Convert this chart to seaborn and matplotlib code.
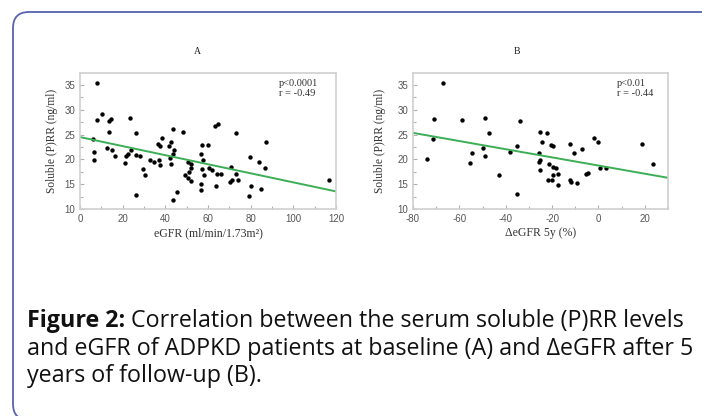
import matplotlib
matplotlib.use("Agg")
import matplotlib.pyplot as plt
import seaborn as sns
from matplotlib.patches import FancyBboxPatch
from matplotlib.ticker import MultipleLocator

# panel A: baseline eGFR vs soluble (P)RR
egfr = [7.8, 6.1, 6.4, 6.4, 8.2, 10.4, 13.8, 14.6, 13.8, 12.5, 15.2, 16.6, 21.2, 21.6,
        22.7, 23.8, 23.5, 26.4, 26.4, 28.0, 29.3, 30.4, 26.4, 32.6, 34.8, 36.9, 37.3, 36.5,
        37.3, 38.3, 41.6, 42.7, 43.6, 42.0, 42.7, 43.5, 44.0, 45.5, 43.6, 48.5, 49.3, 50.8,
        51.8, 51.3, 51.9, 51.9, 50.8, 56.5, 56.8, 56.8, 57.1, 57.4, 57.7, 58.0, 59.9, 60.7,
        62.1, 63.2, 64.6, 63.9, 64.4, 66.0, 70.6, 70.3, 71.2, 73.1, 73.1, 74.2, 79.7, 80.3,
        79.0, 84.0, 84.7, 87.4, 86.9, 116.5]
sprr_a = [35.3, 24.1, 21.4, 19.9, 28.0, 29.1, 27.8, 28.2, 25.6, 22.2, 21.9, 20.6, 19.2, 20.6,
          21.1, 21.9, 28.3, 25.3, 20.9, 20.7, 18.0, 16.8, 12.9, 19.9, 19.4, 19.9, 18.9, 23.1,
          22.7, 24.3, 22.6, 23.5, 26.2, 20.2, 19.0, 21.1, 21.9, 13.5, 11.9, 25.6, 16.8, 19.4,
          19.0, 17.4, 18.3, 15.7, 16.2, 13.8, 15.1, 21.1, 18.0, 22.9, 19.8, 16.8, 22.9, 18.3,
          17.8, 26.7, 27.1, 14.7, 17.1, 17.1, 18.4, 15.5, 15.8, 25.3, 17.1, 15.8, 20.5, 14.7,
          12.7, 19.5, 14.1, 23.4, 18.2, 15.8]

# panel B: eGFR change over 5 years vs soluble (P)RR
dgfr = [-67.0, -71.1, -71.3, -73.9, -58.7, -54.4, -55.3, -49.9, -48.9, -48.9, -47.4, -43.0,
        -38.0, -35.2, -33.8, -35.2, -25.4, -24.4, -25.6, -25.5, -25.1, -25.4, -22.2, -21.2,
        -20.5, -19.8, -19.5, -18.3, -19.5, -17.5, -21.9, -20.1, -17.6, -12.3, -12.3, -11.9,
        -10.5, -9.3, -6.9, -5.3, -4.7, -2.0, 0.0, 0.7, 3.2, 18.6, 23.5]
sprr_b = [35.3, 28.2, 24.1, 20.0, 28.0, 21.3, 19.3, 22.2, 20.7, 28.3, 25.3, 16.9, 21.5, 22.7,
          27.8, 13.0, 25.6, 23.5, 21.3, 19.4, 19.9, 17.8, 25.3, 19.1, 22.9, 22.6, 18.4, 18.2,
          16.9, 17.1, 15.8, 15.8, 14.8, 23.1, 15.8, 15.5, 21.3, 15.2, 22.0, 17.0, 17.2, 24.4,
          23.4, 18.3, 18.3, 23.1, 19.1]

stats_a = ["p<0.0001", "r = -0.49"]
stats_b = ["p<0.01", "r = -0.44"]

caption_bold = "Figure 2:"
caption_lines = [" Correlation between the serum soluble (P)RR levels",
                 "and eGFR of ADPKD patients at baseline (A) and \u0394eGFR after 5",
                 "years of follow-up (B)."]

sns.set_theme(style="white")
plt.rcParams["font.family"] = ["Liberation Sans", "DejaVu Sans"]
plt.rcParams["axes.unicode_minus"] = False

W, H = 702, 416
SERIF = "Liberation Serif"
CAP_FONT = ["Open Sans", "DejaVu Sans"]
GREEN = "#3cae55"

fig = plt.figure(figsize=(W / 100, H / 100), dpi=100)


def px_axes(l, t, r, b):
    return fig.add_axes([l / W, 1 - b / H, (r - l) / W, (b - t) / H])


def ftext(x, y, s, **kw):
    return fig.text(x / W, 1 - y / H, s, **kw)


def panel(ax, x, y, xlim, xlabel, ylab_x):
    ax.set_xlim(*xlim)
    ax.set_ylim(10, 37.4)
    sns.regplot(x=x, y=y, ax=ax, ci=None, truncate=False,
                scatter_kws=dict(s=10, color="black", linewidths=0, alpha=1),
                line_kws=dict(color=GREEN, lw=1.4))
    ax.set_xlim(*xlim)
    ax.xaxis.set_major_locator(MultipleLocator(20))
    ax.xaxis.set_minor_locator(MultipleLocator(10))
    ax.yaxis.set_major_locator(MultipleLocator(5))
    ax.yaxis.set_minor_locator(MultipleLocator(2.5))
    ax.tick_params(which="both", direction="in", bottom=True, left=True,
                   color="#b0b0b0", width=0.8)
    ax.tick_params(which="major", length=3, labelsize=7, labelcolor="#555555", pad=3.5)
    ax.tick_params(which="minor", length=2)
    for sp in ax.spines.values():
        sp.set_color("#cfcfcf")
        sp.set_linewidth(1.2)
    ax.set_xlabel(xlabel, family=SERIF, fontsize=8.5, color="#333333", va="center")
    ax.xaxis.set_label_coords(0.5, -0.176)
    ax.set_ylabel("Soluble (P)RR (ng/ml)", family=SERIF, fontsize=8.3, color="#333333",
                  va="center")
    ax.yaxis.set_label_coords(ylab_x, 0.5)


ax_a = px_axes(80, 73, 336, 209)
ax_b = px_axes(413, 73, 668, 209)
panel(ax_a, egfr, sprr_a, (0, 120), "eGFR (ml/min/1.73m\u00b2)", -0.109)
panel(ax_b, dgfr, sprr_b, (-80, 30), "\u0394eGFR 5y (%)", -0.128)

ftext(197, 52, "A", family=SERIF, fontsize=7, ha="center", va="center", color="#222222")
ftext(517, 51, "B", family=SERIF, fontsize=7, ha="center", va="center", color="#222222")

for (x0, lines) in [(279, stats_a), (617, stats_b)]:
    for i, s in enumerate(lines):
        ftext(x0, 84 + 9 * i, s, family=SERIF, fontsize=7.5, ha="left", va="center",
              color="#333333")

# rounded frame (in inches); right and bottom sides run off the canvas
frame = FancyBboxPatch((0.13, -0.04), 7.27, 4.08,
                       boxstyle="round,pad=0,rounding_size=0.16",
                       transform=fig.dpi_scale_trans, fill=False,
                       edgecolor="#5563b0", linewidth=1.3)
fig.add_artist(frame)

# caption: size fitted so the second line spans the same width as the reference
renderer = fig.canvas.get_renderer()
probe = ftext(27, 355, caption_lines[1], family=CAP_FONT, fontsize=10)
cap_size = 10 * 668 / probe.get_window_extent(renderer).width
probe.remove()

bold = ftext(27, 327, caption_bold, family=CAP_FONT, fontsize=cap_size, weight="bold",
             va="baseline", color="#111111")
bw = bold.get_window_extent(renderer).width
ftext(27 + bw, 327, caption_lines[0], family=CAP_FONT, fontsize=cap_size,
      va="baseline", color="#111111")
ftext(27, 355, caption_lines[1], family=CAP_FONT, fontsize=cap_size, va="baseline",
      color="#111111")
ftext(27, 382, caption_lines[2], family=CAP_FONT, fontsize=cap_size, va="baseline",
      color="#111111")

fig.savefig("out.png", dpi=100)
